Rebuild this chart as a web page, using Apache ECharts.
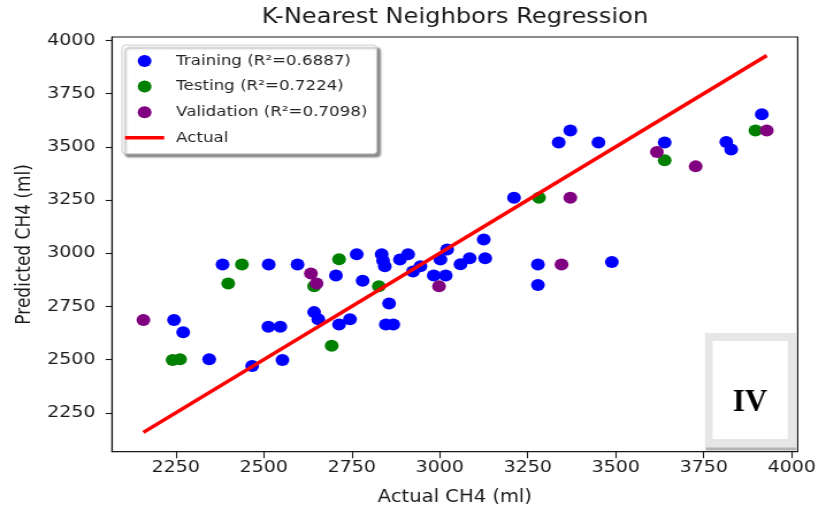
<!DOCTYPE html>
<html>
<head>
<meta charset="utf-8">
<script src="https://cdn.jsdelivr.net/npm/echarts@6/dist/echarts.min.js"></script>
<style>
  html, body { margin: 0; padding: 0; background: #ffffff; overflow: hidden; }
  #wrap { width: 826px; height: 512px; overflow: hidden; }
  /* the figure is laid out narrower and widened horizontally */
  #chart { width: 718px; height: 512px; transform: scaleX(1.1504); transform-origin: 0 0; }
</style>
</head>
<body>
<div id="wrap"><div id="chart"></div></div>
<script>
// Training set: actual vs predicted CH4 (ml)
const trainActual = [2245, 2271, 2345, 2467, 2553, 2513, 2547, 2383, 2514, 2596,
  2643, 2655, 2714, 2745, 2705, 2764, 2781, 2835, 2839, 2844,
  2856, 2847, 2868, 2887, 2910, 2924, 2945, 2983, 3017, 3002,
  3021, 3059, 3085, 3125, 3129, 3211, 3338, 3371, 3451, 3639,
  3814, 3828, 3915, 3279, 3279, 3489];
const trainPred = [2686, 2628, 2501, 2470, 2498, 2654, 2654, 2947, 2947, 2947,
  2723, 2689, 2665, 2689, 2895, 2995, 2870, 2995, 2964, 2939,
  2764, 2665, 2665, 2970, 2995, 2914, 2939, 2895, 2895, 2970,
  3017, 2948, 2976, 3064, 2976, 3261, 3520, 3577, 3520, 3520,
  3522, 3487, 3653, 2947, 2850, 2958];

// Testing set
const testActual = [2241, 2262, 2438, 2399, 2643, 2714, 2827, 2693, 3282, 3639, 3897];
const testPred   = [2498, 2501, 2947, 2858, 2845, 2972, 2845, 2565, 3261, 3437, 3577];

// Validation set
const valActual = [2158, 2634, 2650, 2998, 3371, 3346, 3617, 3727, 3929];
const valPred   = [2686, 2905, 2858, 2845, 3261, 2947, 3476, 3408, 3577];

// Legend names
const seriesNames = ['Training (R\u00B2=0.6887)', 'Testing (R\u00B2=0.7224)', 'Validation (R\u00B2=0.7098)', 'Actual'];

// Axis ticks and limits
const xTicks = [2250, 2500, 2750, 3000, 3250, 3500, 3750, 4000];
const yTicks = [2250, 2500, 2750, 3000, 3250, 3500, 3750, 4000];
const xLimits = [2069, 4017];
const yLimits = [2067, 4016];

const pairs = (a, b) => a.map((v, i) => [v, b[i]]);

// identity line spans the full range of actual values
const allActual = trainActual.concat(testActual, valActual);
const lo = Math.min.apply(null, allActual);
const hi = Math.max.apply(null, allActual);
const identityLine = [[lo, lo], [hi, hi]];

const FONT = 'DejaVu Sans';
const INK = '#1a1a1a';
const SX = 1.1504;
const plain = v => String(v);

const chart = echarts.init(document.getElementById('chart'));
chart.setOption({
  animation: false,
  backgroundColor: '#ffffff',
  title: {
    text: 'K-Nearest Neighbors Regression',
    left: 395.5, top: 7, textAlign: 'center', padding: 0,
    textStyle: { fontFamily: FONT, fontSize: 21, fontWeight: 'normal', color: INK }
  },
  grid: {
    left: 97.4, right: 24.6, top: 37, bottom: 60.3,
    show: true, borderColor: INK, borderWidth: 1.2, backgroundColor: 'transparent'
  },
  legend: {
    orient: 'vertical', left: 106, top: 45,
    padding: [8.5, 8, 8.5, 2.7],
    itemWidth: 34, itemHeight: 12, itemGap: 10.6,
    selectedMode: false,
    backgroundColor: '#ffffff', borderColor: '#cccccc', borderWidth: 1, borderRadius: 3,
    shadowColor: 'rgba(0,0,0,0.45)', shadowBlur: 2, shadowOffsetX: 3, shadowOffsetY: 3,
    textStyle: { fontFamily: FONT, fontSize: 14.5, color: '#262626', lineHeight: 14, padding: [0, 0, 0, 5.4] },
    data: [
      { name: seriesNames[0], icon: 'circle' },
      { name: seriesNames[1], icon: 'circle' },
      { name: seriesNames[2], icon: 'circle' },
      { name: seriesNames[3], icon: 'path://M0 0H34V3.5H0Z' }
    ]
  },
  xAxis: {
    type: 'value', min: xLimits[0], max: xLimits[1],
    name: 'Actual CH4 (ml)', nameLocation: 'middle', nameGap: 37,
    nameTextStyle: { fontFamily: FONT, fontSize: 17, color: INK },
    axisLine: { show: true, onZero: false, lineStyle: { color: INK, width: 1.2 } },
    axisTick: { show: true, length: 6.5, lineStyle: { color: INK, width: 1.1 }, customValues: xTicks },
    axisLabel: { fontFamily: FONT, fontSize: 16.5, color: INK, margin: 8, customValues: xTicks, formatter: plain },
    splitLine: { show: false }
  },
  yAxis: {
    type: 'value', min: yLimits[0], max: yLimits[1],
    name: 'Predicted CH4 (ml)', nameLocation: 'middle', nameGap: 63.5,
    nameTextStyle: { fontFamily: FONT, fontSize: 17, color: INK },
    axisLine: { show: true, onZero: false, lineStyle: { color: INK, width: 1.2 } },
    axisTick: { show: true, length: 5.5, lineStyle: { color: INK, width: 1.1 }, customValues: yTicks },
    axisLabel: { fontFamily: FONT, fontSize: 16.5, color: INK, margin: 14.5, customValues: yTicks, formatter: plain },
    splitLine: { show: false }
  },
  series: [
    { name: seriesNames[0], type: 'scatter', symbolSize: 12, itemStyle: { color: '#0000ff', opacity: 1 },
      data: pairs(trainActual, trainPred), z: 2 },
    { name: seriesNames[1], type: 'scatter', symbolSize: 12, itemStyle: { color: '#008000', opacity: 1 },
      data: pairs(testActual, testPred), z: 2 },
    { name: seriesNames[2], type: 'scatter', symbolSize: 12, itemStyle: { color: '#800080', opacity: 1 },
      data: pairs(valActual, valPred), z: 2 },
    { name: seriesNames[3], type: 'line', symbol: 'none', showSymbol: false, data: identityLine, z: 3,
      lineStyle: { color: '#ff0000', width: 3.5 }, itemStyle: { color: '#ff0000' } }
  ],
  graphic: [
    { type: 'rect', z: 10, shape: { x: 612.8, y: 333, width: 79.1, height: 116 }, style: { fill: '#e6e6e6' } },
    { type: 'rect', z: 11, shape: { x: 613.5, y: 447.5, width: 78.4, height: 3 }, style: { fill: '#b4b4b4' } },
    { type: 'rect', z: 12, shape: { x: 619.5, y: 341, width: 65.2, height: 98 }, style: { fill: '#ffffff' } },
    { type: 'text', z: 13, x: 651.9, y: 403, scaleX: 1 / SX,
      style: { text: 'IV', x: 0, y: 0, align: 'center', verticalAlign: 'middle',
        font: 'bold 31px "Liberation Serif", "Times New Roman", serif', fill: '#000000' } }
  ]
});
</script>
</body>
</html>
